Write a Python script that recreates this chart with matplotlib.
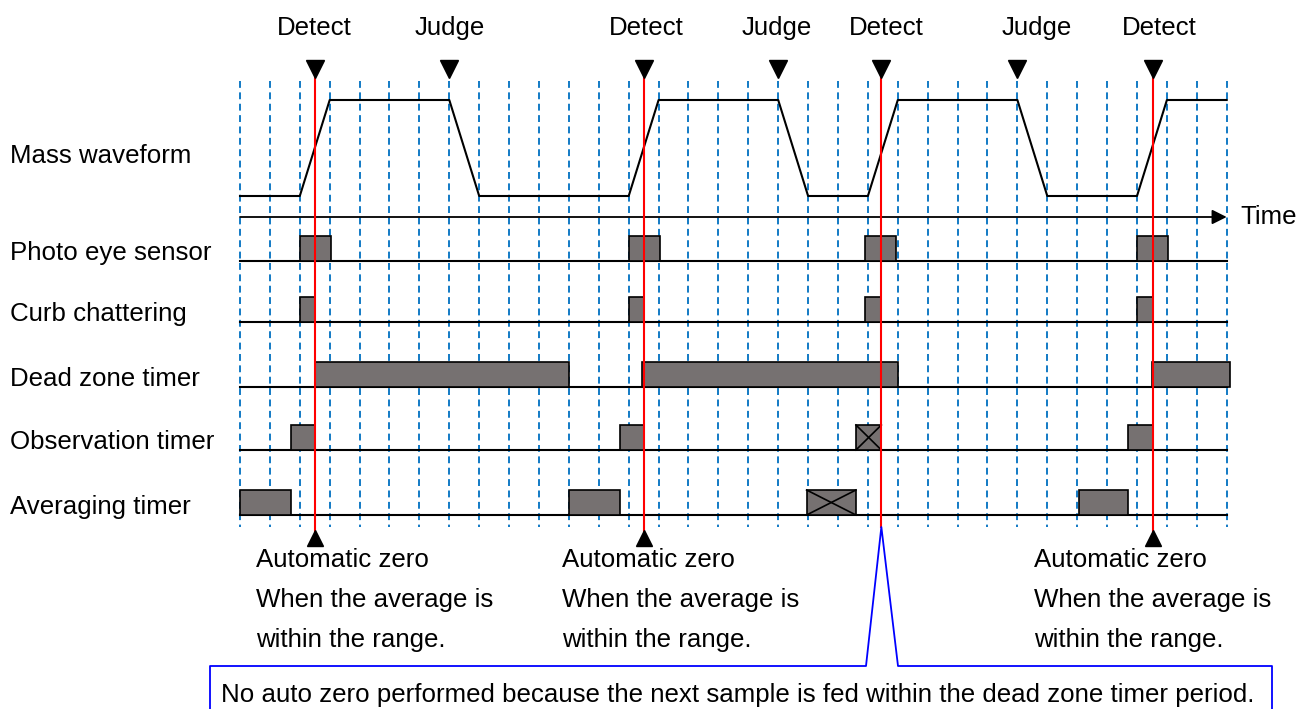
import matplotlib
matplotlib.use('Agg')
import matplotlib.pyplot as plt
from matplotlib.patches import Rectangle

plt.rcParams['font.family'] = ['Liberation Sans', 'DejaVu Sans']

# timing data (time in grid units)
grid_t = list(range(0, 34))
detect_t = [2.5, 13.5, 21.45, 30.55]
judge_t = [7, 18, 26]
auto_zero_idx = [0, 1, 3]

wave_t = [0, 2, 3, 7, 8, 13, 14, 18, 19, 21, 22, 26, 27, 30, 31, 33]
wave_level = [0, 0, 1, 1, 0, 0, 1, 1, 0, 0, 1, 1, 0, 0, 1, 1]

photo_eye = [(2, 3.05), (13, 14.05), (20.9, 21.95), (30, 31.05)]
curb_chatter = [(2, 2.5), (13, 13.5), (20.9, 21.45), (30, 30.55)]
dead_zone = [(2.5, 11), (13.45, 22), (30.5, 33.1)]
observation = [(1.7, 2.5), (12.7, 13.5), (20.6, 21.45), (29.7, 30.55)]
observation_cancel = [False, False, True, False]
averaging = [(0, 1.7), (11, 12.7), (18.95, 20.6), (28.05, 29.7)]
averaging_cancel = [False, False, True, False]

row_names = ["Photo eye sensor", "Curb chattering", "Dead zone timer",
             "Observation timer", "Averaging timer"]
auto_zero_lines = ["Automatic zero", "When the average is", "within the range."]
note_text = "No auto zero performed because the next sample is fed within the dead zone timer period."

# layout (pixels)
W, H = 1308, 709
X0, DX = 240, 29.9
row_base = [261, 322, 387, 450, 515]
box_h = 25
wave_low, wave_high = 196, 100
time_y = 217
FS = 18.6
GRAY = '#767171'
BLUE = '#0070C0'
detect_lbl_dx = [0, 3, 5, 6]   # label nudges in px
judge_lbl_dx = [0, -1, 19]


def t_of(px):
    return (px - X0) / DX


fig = plt.figure(figsize=(W / 100, H / 100), dpi=100)
ax = fig.add_axes([0, 0, 1, 1])
ax.set_xlim(t_of(0), t_of(W))
ax.set_ylim(H, 0)
ax.axis('off')

t_end = grid_t[-1]

# dashed time grid
for t in grid_t:
    ax.plot([t, t], [81, 527], color=BLUE, lw=1.3, dashes=(3.8, 2.5), zorder=1)

# mass waveform
wy = [wave_low + (wave_high - wave_low) * v for v in wave_level]
ax.plot(wave_t, wy, color='black', lw=1.5, zorder=3)
ax.text(t_of(10), 163, "Mass waveform", fontsize=FS, va='baseline', ha='left')

# time axis
ax.annotate("", xy=(t_end, time_y), xytext=(0, time_y),
            arrowprops=dict(arrowstyle='-|>', color='black', lw=1.3,
                            mutation_scale=22, shrinkA=0, shrinkB=0), zorder=3)
ax.text(t_of(1240), time_y, "Time", fontsize=FS, va='center', ha='left')

# signal rows
rows = [(photo_eye, None), (curb_chatter, None), (dead_zone, None),
        (observation, observation_cancel), (averaging, averaging_cancel)]
for (spans, cancel), yb, name in zip(rows, row_base, row_names):
    ax.plot([0, t_end], [yb, yb], color='black', lw=1.5, zorder=3)
    ax.text(t_of(10), yb - 1, name, fontsize=FS, va='baseline', ha='left')
    for i, (a, b) in enumerate(spans):
        ax.add_patch(Rectangle((a, yb - box_h), b - a, box_h, facecolor=GRAY,
                               edgecolor='black', lw=1.2, zorder=4))
        if cancel is not None and cancel[i]:
            ax.plot([a, b], [yb - box_h, yb], color='black', lw=1.2, zorder=5)
            ax.plot([a, b], [yb, yb - box_h], color='black', lw=1.2, zorder=5)

# detect / judge markers
for i, t in enumerate(detect_t):
    bottom = 531 if i in auto_zero_idx else 527
    ax.plot([t, t], [64, bottom], color='red', lw=1.5, zorder=6)
    ax.plot(t, 69, marker='v', color='black', ms=13, zorder=7)
    ax.text(t + detect_lbl_dx[i] / DX, 35, "Detect", fontsize=FS,
            ha='center', va='baseline')
for i, t in enumerate(judge_t):
    ax.plot(t, 69, marker='v', color='black', ms=13, zorder=7)
    ax.text(t + judge_lbl_dx[i] / DX, 35, "Judge", fontsize=FS,
            ha='center', va='baseline')

# automatic zero notes
az_x = [256, 562, 1034]
for i, px in zip(auto_zero_idx, az_x):
    ax.plot(detect_t[i], 538, marker='^', color='black', ms=11, zorder=7)
    for k, line in enumerate(auto_zero_lines):
        ax.text(t_of(px), 567 + 40 * k, line, fontsize=FS, va='baseline', ha='left')

# callout for the skipped auto zero
peak = detect_t[2]
ax.plot([t_of(210), t_of(210), t_of(866), peak, t_of(898), t_of(1272), t_of(1272)],
        [H + 5, 666, 666, 527, 666, 666, H + 5], color='#0000FF', lw=1.3, zorder=6)
ax.text(t_of(221), 702, note_text, fontsize=FS, va='baseline', ha='left')

plt.savefig("out.png", dpi=100)
